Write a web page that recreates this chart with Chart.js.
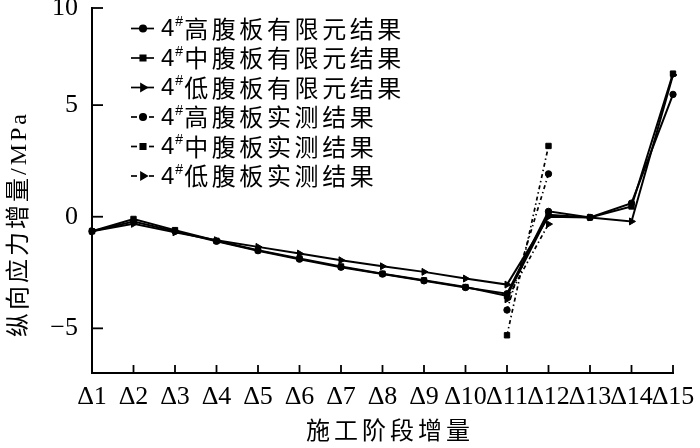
<!DOCTYPE html>
<html><head><meta charset="utf-8">
<script src="https://cdn.jsdelivr.net/npm/chart.js@4"></script>
<style>html,body{margin:0;padding:0;background:#fff}#wrap{width:700px;height:448px}</style>
</head><body><div id="wrap"><canvas id="c" width="700" height="448"></canvas></div>
<script>
const categories = ['Δ1','Δ2','Δ3','Δ4','Δ5','Δ6','Δ7','Δ8','Δ9','Δ10','Δ11','Δ12','Δ13','Δ14','Δ15'];
const seriesNames = ['4#高腹板有限元结果','4#中腹板有限元结果','4#低腹板有限元结果','4#高腹板实测结果','4#中腹板实测结果','4#低腹板实测结果'];
const feHigh = [-0.65,-0.22,-0.65,-1.10,-1.52,-1.90,-2.26,-2.57,-2.87,-3.17,-3.45,0.24,-0.03,0.61,5.48];
const feMid  = [-0.65,-0.10,-0.60,-1.08,-1.50,-1.87,-2.23,-2.55,-2.85,-3.15,-3.55,0.09,-0.03,0.46,6.41];
const feLow  = [-0.65,-0.32,-0.70,-1.05,-1.35,-1.65,-1.95,-2.22,-2.47,-2.77,-3.04,0.00,-0.03,-0.21,6.35];
const msHigh = [null,null,null,null,null,null,null,null,null,null,-4.18,1.92,null,null,null];
const msMid  = [null,null,null,null,null,null,null,null,null,null,-5.31,3.17,null,null,null];
const msLow  = [null,null,null,null,null,null,null,null,null,null,-3.70,-0.33,null,null,null];
const yTicks = [-5,0,5,10];
const yMin = -7, yMax = 9.35;
const xTitle = '施工阶段增量';
const yTitle = '纵向应力增量/MPa';

const dashPattern = [4,3,1.5,3];
function ds(label, data, style, dashed){
  return {
    label, data,
    borderColor:'#000', backgroundColor:'#000',
    borderWidth: dashed ? 1.7 : 2,
    borderDash: dashed ? dashPattern : [],
    pointStyle: style,
    pointRotation: style === 'triangle' ? 90 : 0,
    pointRadius: style === 'rect' ? 3.8 : (style === 'triangle' ? 4 : 3.2),
    pointBorderWidth: 1,
    spanGaps: false,
    tension: 0
  };
}

const decor = {
  id:'decor',
  afterDraw(chart){
    const ctx = chart.ctx, ca = chart.chartArea;
    const xs = chart.scales.x, ys = chart.scales.y;
    ctx.save();
    ctx.strokeStyle = '#000'; ctx.lineWidth = 1.8;
    ys.ticks.forEach(t => {
      const py = ys.getPixelForValue(t.value);
      ctx.beginPath(); ctx.moveTo(ca.left, py); ctx.lineTo(ca.left + 11, py); ctx.stroke();
    });
    xs.ticks.forEach((t, i) => {
      if (i === 0) return;
      const px = xs.getPixelForTick(i);
      ctx.beginPath(); ctx.moveTo(px, ca.bottom); ctx.lineTo(px, ca.bottom - 8); ctx.stroke();
    });
    ctx.fillStyle = '#000';
    ctx.letterSpacing = '4px';
    ctx.font = "24px 'Liberation Serif', 'Noto Sans CJK SC'";
    ctx.textAlign = 'center'; ctx.textBaseline = 'middle';
    ctx.fillText(xTitle, 390, 433);
    ctx.save();
    ctx.translate(20, 224); ctx.rotate(-Math.PI/2);
    ctx.letterSpacing = '3px';
    ctx.fillText(yTitle, 0, 0);
    ctx.restore();
    ctx.letterSpacing = '0px';
    chart.data.datasets.forEach((d, i) => {
      const y = 28.5 + i * 29.5;
      ctx.lineWidth = 1.7;
      ctx.setLineDash([]);
      if (d.borderDash.length) {
        ctx.beginPath(); ctx.moveTo(131, y); ctx.lineTo(137, y); ctx.stroke();
        ctx.beginPath(); ctx.moveTo(149, y); ctx.lineTo(154, y); ctx.stroke();
      } else {
        ctx.beginPath(); ctx.moveTo(131, y); ctx.lineTo(154, y); ctx.stroke();
      }
      Chart.helpers.drawPoint(ctx, {pointStyle: d.pointStyle, rotation: d.pointRotation, radius: d.pointRadius, borderWidth: 1}, 143, y);
      ctx.fillStyle = '#000';
      ctx.textAlign = 'left'; ctx.textBaseline = 'middle';
      const lab = d.label;
      ctx.font = "24px 'Liberation Sans', 'Noto Sans CJK SC'";
      ctx.fillText(lab[0], 161, y + 1);
      let x = 161 + ctx.measureText(lab[0]).width;
      ctx.font = "14px 'Liberation Sans'";
      ctx.fillText(lab[1], x + 1, y - 6);
      x += ctx.measureText(lab[1]).width + 2;
      ctx.font = "24px 'Noto Sans CJK SC'";
      ctx.letterSpacing = '3.6px';
      ctx.fillText(lab.slice(2), x, y);
      ctx.letterSpacing = '0px';
    });
    ctx.restore();
  }
};

new Chart(document.getElementById('c'), {
  type:'line',
  data:{
    labels: categories,
    datasets:[
      ds(seriesNames[0], feHigh, 'circle', false),
      ds(seriesNames[1], feMid, 'rect', false),
      ds(seriesNames[2], feLow, 'triangle', false),
      ds(seriesNames[3], msHigh, 'circle', true),
      ds(seriesNames[4], msMid, 'rect', true),
      ds(seriesNames[5], msLow, 'triangle', true)
    ]
  },
  plugins:[decor],
  options:{
    responsive:false, animation:false, devicePixelRatio:1,
    layout:{padding:{left:0, right:27, top:8, bottom:0}},
    plugins:{legend:{display:false}, tooltip:{enabled:false}, title:{display:false}},
    scales:{
      x:{
        type:'category', offset:false,
        grid:{display:false, drawTicks:false},
        border:{display:true, color:'#000', width:2},
        ticks:{color:'#000', font:{family:"'Liberation Serif'", size:26}, padding:9, maxRotation:0, autoSkip:false},
        afterFit(s){ s.height = 75; s.paddingLeft = 0; s.paddingRight = 0; }
      },
      y:{
        min:yMin, max:yMax,
        grid:{display:false, drawTicks:false},
        border:{display:true, color:'#000', width:2},
        afterBuildTicks(s){ s.ticks = yTicks.map(v => ({value: Math.min(v, yMax)})); },
        ticks:{color:'#000', font:{family:"'Liberation Serif'", size:26}, padding:14,
          callback:(v, i) => String(yTicks[i]).replace('-', '\u2212')},
        afterFit(s){ s.width = 92; s.paddingTop = 0; s.paddingBottom = 0; }
      }
    }
  }
});
</script>
</body></html>
